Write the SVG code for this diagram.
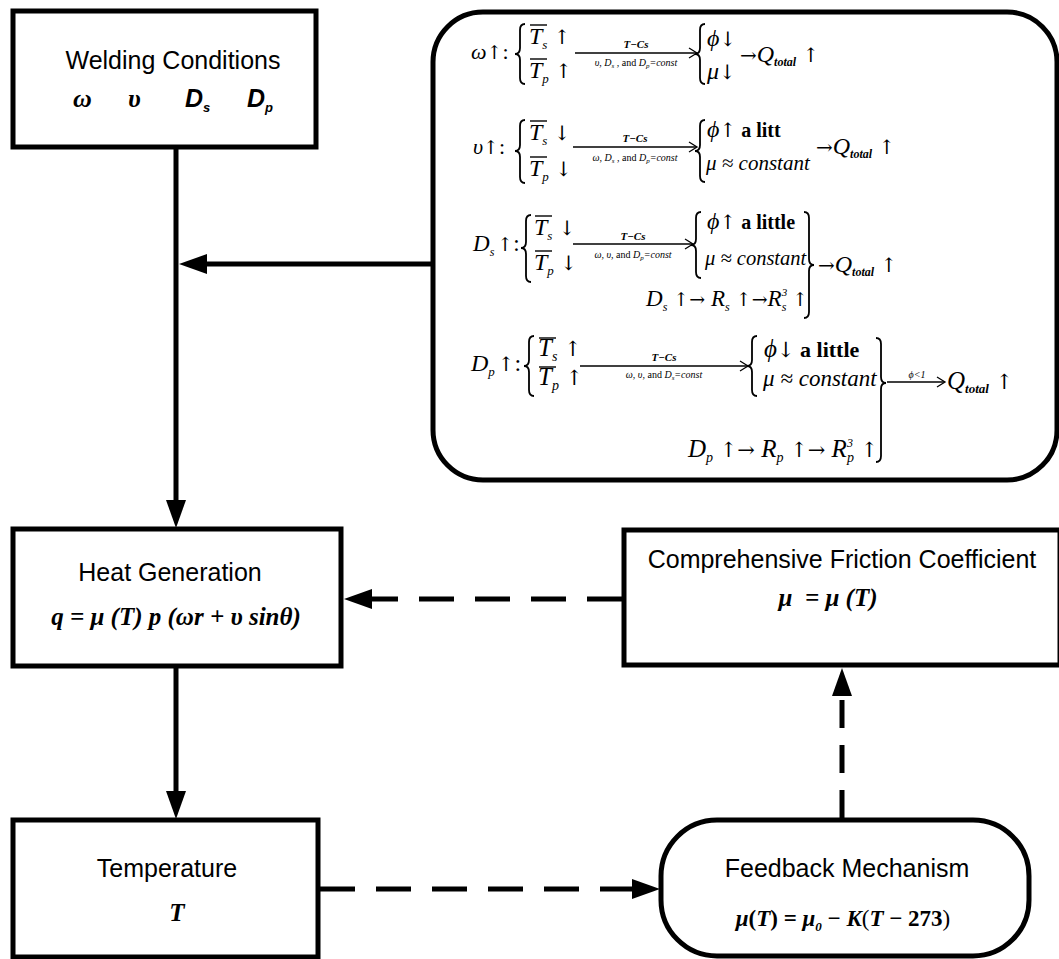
<svg xmlns="http://www.w3.org/2000/svg" width="1059" height="959" viewBox="0 0 1059 959">
<defs>
<style>
.box{fill:#fff;stroke:#000;stroke-width:5}
.ln{fill:none;stroke:#000;stroke-width:5}
.dh{fill:none;stroke:#000;stroke-width:5;stroke-dasharray:35 21}
.dv{fill:none;stroke:#000;stroke-width:5;stroke-dasharray:28 17}
.sans{font-family:"Liberation Sans",Arial,sans-serif;font-size:25px;fill:#000}
.bi{font-family:"Liberation Serif","Times New Roman",serif;font-style:italic;font-weight:bold;fill:#000}
.sbi{font-family:"Liberation Sans",Arial,sans-serif;font-style:italic;font-weight:bold;fill:#000}
.mi{font-family:"Liberation Serif","Times New Roman",serif;font-style:italic;fill:#000}
.up{font-style:normal}
.ar{font-family:"DejaVu Serif",serif;font-style:normal;font-weight:normal}
.br{fill:none;stroke:#000;stroke-width:1.8}
.th{fill:none;stroke:#000;stroke-width:1.3}
.ol{stroke:#000;stroke-width:1.4}
</style>
<marker id="ah" viewBox="0 0 28 20" refX="1" refY="10" markerWidth="28" markerHeight="20" markerUnits="userSpaceOnUse" orient="auto">
<path d="M0,0 L28,10 L0,20 Z" fill="#000"/>
</marker>
</defs>
<rect width="1059" height="959" fill="#fff"/>

<g id="connectors">
<path class="ln" d="M176,149 V501" marker-end="url(#ah)"/>
<path class="ln" d="M431,264 H206" marker-end="url(#ah)"/>
<path class="ln" d="M176,668 V792" marker-end="url(#ah)"/>
<path class="dh" d="M622,599 H371" marker-end="url(#ah)"/>
<path class="dh" d="M320,889 H633" marker-end="url(#ah)"/>
<path class="dv" d="M842,818 V695" marker-end="url(#ah)"/>
</g>

<g id="welding">
<rect class="box" x="13" y="11" width="303" height="136"/>
<text class="sans" x="173" y="69" text-anchor="middle">Welding Conditions</text>
<text class="bi" x="73" y="107" font-size="26">ω</text>
<text class="bi" x="128" y="107" font-size="26">υ</text>
<text class="sbi" x="185" y="107" font-size="25">D<tspan font-size="13" dy="5">s</tspan></text>
<text class="sbi" x="247" y="107" font-size="25">D<tspan font-size="13" dy="5">p</tspan></text>
</g>

<g id="heat">
<rect class="box" x="13" y="529" width="328" height="137"/>
<text class="sans" x="170" y="581" text-anchor="middle">Heat Generation</text>
<text class="bi" x="176" y="625" font-size="25" text-anchor="middle">q = μ (T) p (ωr + υ sinθ)</text>
</g>

<g id="temperature">
<rect class="box" x="13" y="820" width="305" height="137"/>
<text class="sans" x="167" y="877" text-anchor="middle">Temperature</text>
<text class="bi" x="177" y="921" font-size="25" text-anchor="middle">T</text>
</g>

<g id="friction">
<rect class="box" x="624" y="530" width="436" height="135"/>
<text class="sans" x="842" y="568" text-anchor="middle">Comprehensive Friction Coefficient</text>
<text class="bi" x="828" y="606" font-size="25" text-anchor="middle" xml:space="preserve">μ  = μ (T)</text>
</g>

<g id="feedback">
<rect class="box" x="661" y="820" width="368" height="136" rx="56" ry="56"/>
<text class="sans" x="847" y="877" text-anchor="middle">Feedback Mechanism</text>
<text class="bi" x="843" y="926" font-size="23" text-anchor="middle">μ<tspan class="up">(</tspan>T<tspan class="up">) = </tspan>μ<tspan font-size="13" dy="5">0</tspan><tspan class="up" dy="-5"> − </tspan>K<tspan class="up" font-weight="normal">(</tspan>T<tspan class="up"> − 273</tspan><tspan class="up" font-weight="normal">)</tspan></text>
</g>

<g id="effects">
<rect class="box" x="433" y="12" width="624" height="468" rx="50" ry="50"/>

<!-- row 1: omega -->
<text class="mi" x="471" y="59" font-size="22">ω<tspan class="ar" font-size="19">↑</tspan><tspan class="up">:</tspan></text>
<path class="br" d="M525,24 Q520,24 520,30 L520,48 Q520,54 515,54 Q520,54 520,60 L520,78 Q520,84 525,84"/>
<line class="ol" x1="530" y1="25" x2="547" y2="25"/>
<text class="mi" x="529" y="44" font-size="24">T<tspan font-size="13" dy="5">s</tspan><tspan class="ar" font-size="20" dy="-5"> ↑</tspan></text>
<line class="ol" x1="530" y1="59" x2="547" y2="59"/>
<text class="mi" x="529" y="78" font-size="24">T<tspan font-size="13" dy="5">p</tspan><tspan class="ar" font-size="20" dy="-5"> ↑</tspan></text>
<line class="th" x1="575" y1="53" x2="696" y2="53"/>
<path class="th" d="M689,48 L697,53 L689,58"/>
<text class="mi" x="636" y="48" font-size="11" font-weight="bold" text-anchor="middle">T−Cs</text>
<text class="mi" x="636" y="66" font-size="10" text-anchor="middle">υ, D<tspan font-size="7" dy="2">s</tspan><tspan dy="-2"> , </tspan><tspan class="up">and </tspan>D<tspan font-size="7" dy="2">p</tspan><tspan dy="-2">=const</tspan></text>
<path class="br" d="M705,24 Q700,24 700,30 L700,48 Q700,54 695,54 Q700,54 700,60 L700,78 Q700,84 705,84"/>
<text class="mi" x="707" y="46" font-size="24">ϕ<tspan class="ar" font-size="20">↓</tspan></text>
<text class="mi" x="707" y="79" font-size="24">μ<tspan class="ar" font-size="20">↓</tspan></text>
<text class="mi" x="740" y="62" font-size="24"><tspan class="ar" font-size="20">→</tspan>Q<tspan font-size="12" font-weight="bold" dy="4">total</tspan><tspan class="ar" font-size="20" dy="-4"> ↑</tspan></text>

<!-- row 2: upsilon -->
<text class="mi" x="473" y="154" font-size="22">υ<tspan class="ar" font-size="19">↑</tspan><tspan class="up">:</tspan></text>
<path class="br" d="M525,120 Q520,120 520,126 L520,145 Q520,151 515,151 Q520,151 520,157 L520,177 Q520,183 525,183"/>
<line class="ol" x1="530" y1="121" x2="547" y2="121"/>
<text class="mi" x="529" y="140" font-size="24">T<tspan font-size="13" dy="5">s</tspan><tspan class="ar" font-size="20" dy="-5"> ↓</tspan></text>
<line class="ol" x1="530" y1="157" x2="547" y2="157"/>
<text class="mi" x="529" y="176" font-size="24">T<tspan font-size="13" dy="5">p</tspan><tspan class="ar" font-size="20" dy="-5"> ↓</tspan></text>
<line class="th" x1="573" y1="147" x2="696" y2="147"/>
<path class="th" d="M689,142 L697,147 L689,152"/>
<text class="mi" x="635" y="142" font-size="11" font-weight="bold" text-anchor="middle">T−Cs</text>
<text class="mi" x="635" y="161" font-size="10" text-anchor="middle">ω, D<tspan font-size="7" dy="2">s</tspan><tspan dy="-2"> , </tspan><tspan class="up">and </tspan>D<tspan font-size="7" dy="2">p</tspan><tspan dy="-2">=const</tspan></text>
<path class="br" d="M705,120 Q700,120 700,126 L700,145 Q700,151 695,151 Q700,151 700,157 L700,176 Q700,182 705,182"/>
<text class="mi" x="707" y="137" font-size="24">ϕ<tspan class="ar" font-size="20">↑</tspan><tspan class="up" font-weight="bold" font-size="20"> a litt</tspan></text>
<text class="mi" x="706" y="170" font-size="21">μ ≈ constant</text>
<text class="mi" x="816" y="154" font-size="24"><tspan class="ar" font-size="20">→</tspan>Q<tspan font-size="12" font-weight="bold" dy="4">total</tspan><tspan class="ar" font-size="20" dy="-4"> ↑</tspan></text>

<!-- row 3: Ds -->
<text class="mi" x="473" y="251" font-size="23">D<tspan font-size="12" dy="5">s</tspan><tspan class="ar" font-size="19" dy="-5" dx="3">↑</tspan><tspan class="up">:</tspan></text>
<path class="br" d="M531,215 Q526,215 526,221 L526,242 Q526,248 521,248 Q526,248 526,254 L526,276 Q526,282 531,282"/>
<line class="ol" x1="535" y1="216" x2="552" y2="216"/>
<text class="mi" x="534" y="235" font-size="24">T<tspan font-size="13" dy="5">s</tspan><tspan class="ar" font-size="20" dy="-5"> ↓</tspan></text>
<line class="ol" x1="535" y1="251" x2="552" y2="251"/>
<text class="mi" x="534" y="270" font-size="24">T<tspan font-size="13" dy="5">p</tspan><tspan class="ar" font-size="20" dy="-5"> ↓</tspan></text>
<line class="th" x1="573" y1="244" x2="692" y2="244"/>
<path class="th" d="M685,239 L693,244 L685,249"/>
<text class="mi" x="633" y="240" font-size="11" font-weight="bold" text-anchor="middle">T−Cs</text>
<text class="mi" x="633" y="258" font-size="10" text-anchor="middle">ω, υ, <tspan class="up">and </tspan>D<tspan font-size="7" dy="2">p</tspan><tspan dy="-2">=const</tspan></text>
<path class="br" d="M701,212 Q696,212 696,218 L696,239 Q696,245 691,245 Q696,245 696,251 L696,272 Q696,278 701,278"/>
<text class="mi" x="707" y="229" font-size="24">ϕ<tspan class="ar" font-size="20">↑</tspan><tspan class="up" font-weight="bold" font-size="20"> a little</tspan></text>
<text class="mi" x="705" y="265" font-size="20.5">μ ≈ constant</text>
<path class="br" d="M804,212 Q809,212 809,218 L809,259 Q809,265 814,265 Q809,265 809,271 L809,312 Q809,318 804,318"/>
<text class="mi" x="818" y="272" font-size="24"><tspan class="ar" font-size="20">→</tspan>Q<tspan font-size="12" font-weight="bold" dy="4">total</tspan><tspan class="ar" font-size="20" dy="-4"> ↑</tspan></text>
<text class="mi" x="646" y="306" font-size="23">D<tspan font-size="12" dy="5">s</tspan><tspan class="ar" font-size="19" dy="-5"> ↑→</tspan> R<tspan font-size="12" dy="5">s</tspan><tspan class="ar" font-size="19" dy="-5"> ↑→</tspan>R<tspan font-size="11" dy="-10">3</tspan><tspan font-size="12" dx="-5.5" dy="15">s</tspan><tspan class="ar" font-size="19" dy="-5"> ↑</tspan></text>

<!-- row 4: Dp -->
<text class="mi" x="471" y="371" font-size="24">D<tspan font-size="13" dy="5">p</tspan><tspan class="ar" font-size="20" dy="-5" dx="3">↑</tspan><tspan class="up">:</tspan></text>
<path class="br" d="M534,336 Q529,336 529,342 L529,360 Q529,366 524,366 Q529,366 529,372 L529,390 Q529,396 534,396"/>
<line class="ol" x1="539" y1="338" x2="556" y2="338"/>
<text class="mi" x="538" y="356" font-size="25">T<tspan font-size="14" dy="5">s</tspan><tspan class="ar" font-size="21" dy="-5"> ↑</tspan></text>
<line class="ol" x1="539" y1="367" x2="556" y2="367"/>
<text class="mi" x="538" y="385" font-size="25">T<tspan font-size="14" dy="5">p</tspan><tspan class="ar" font-size="21" dy="-5"> ↑</tspan></text>
<line class="th" x1="580" y1="366" x2="747" y2="366"/>
<path class="th" d="M740,361 L748,366 L740,371"/>
<text class="mi" x="664" y="361" font-size="11" font-weight="bold" text-anchor="middle">T−Cs</text>
<text class="mi" x="664" y="378" font-size="10" text-anchor="middle">ω, υ, <tspan class="up">and </tspan>D<tspan font-size="7" dy="2">s</tspan><tspan dy="-2">=const</tspan></text>
<path class="br" d="M757,336 Q752,336 752,342 L752,360 Q752,366 747,366 Q752,366 752,372 L752,390 Q752,396 757,396"/>
<text class="mi" x="764" y="357" font-size="25">ϕ<tspan class="ar" font-size="21">↓</tspan><tspan class="up" font-weight="bold" font-size="22"> a little</tspan></text>
<text class="mi" x="763" y="386" font-size="23">μ ≈ constant</text>
<path class="br" d="M876,338 Q881,338 881,344 L881,377 Q881,383 886,383 Q881,383 881,389 L881,456 Q881,462 876,462"/>
<line class="th" x1="887" y1="382" x2="944" y2="382"/>
<path class="th" d="M937,377 L945,382 L937,387"/>
<text class="mi" x="917" y="378" font-size="10" text-anchor="middle">ϕ&lt;1</text>
<text class="mi" x="947" y="389" font-size="25">Q<tspan font-size="13" font-weight="bold" dy="4">total</tspan><tspan class="ar" font-size="21" dy="-4"> ↑</tspan></text>
<text class="mi" x="688" y="457" font-size="25">D<tspan font-size="14" dy="5">p</tspan><tspan class="ar" font-size="21" dy="-5"> ↑→</tspan> R<tspan font-size="14" dy="5">p</tspan><tspan class="ar" font-size="21" dy="-5"> ↑→</tspan> R<tspan font-size="12" dy="-10">3</tspan><tspan font-size="14" dx="-6" dy="15">p</tspan><tspan class="ar" font-size="21" dy="-5"> ↑</tspan></text>
</g>
</svg>
